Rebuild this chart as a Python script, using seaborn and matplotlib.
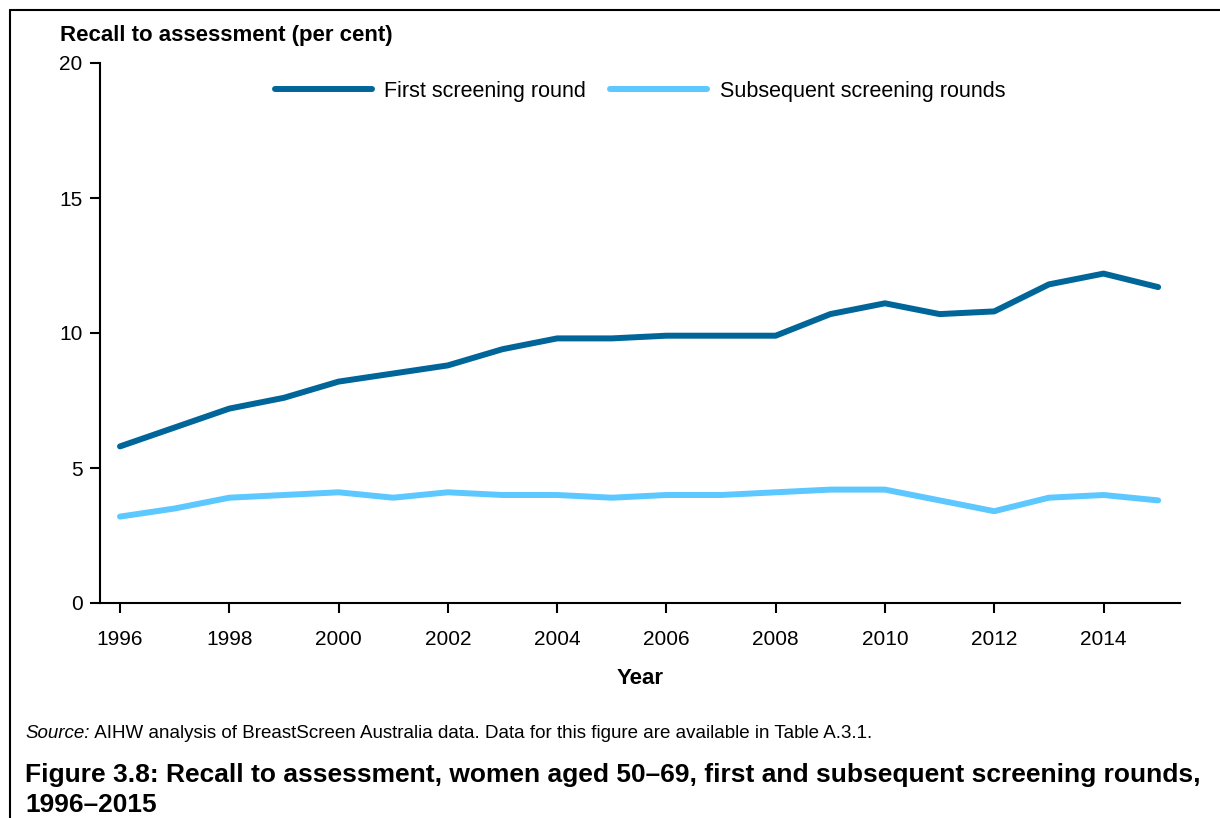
import pandas as pd
import numpy as np
import seaborn as sns
import matplotlib.pyplot as plt
from matplotlib.lines import Line2D

sns.set_style('ticks')
plt.rcParams['font.family'] = ['Liberation Sans', 'DejaVu Sans']
plt.rcParams['text.color'] = 'black'

years = list(range(1996, 2016))
first_round = [5.8, 6.5, 7.2, 7.6, 8.2, 8.5, 8.8, 9.4, 9.8, 9.8,
               9.9, 9.9, 9.9, 10.7, 11.1, 10.7, 10.8, 11.8, 12.2, 11.7]
subsequent_rounds = [3.2, 3.5, 3.9, 4.0, 4.1, 3.9, 4.1, 4.0, 4.0, 3.9,
                     4.0, 4.0, 4.1, 4.2, 4.2, 3.8, 3.4, 3.9, 4.0, 3.8]
series_names = ['First screening round', 'Subsequent screening rounds']

df = pd.DataFrame({
    'Year': years * 2,
    'Rate': first_round + subsequent_rounds,
    'Series': [series_names[0]] * len(years) + [series_names[1]] * len(years),
})

palette = {series_names[0]: '#006699', series_names[1]: '#5CC8FF'}

fig = plt.figure(figsize=(12.2, 8.18), dpi=100)
ax = fig.add_axes([100/1220, 1 - 603/818, 1080/1220, 540/818])

sns.lineplot(data=df, x='Year', y='Rate', hue='Series', palette=palette,
             linewidth=4.3, ax=ax, legend=False)

ax.set_xlim(1995.634, 2015.4)
ax.set_ylim(0, 20)
ax.set_xticks(range(1996, 2016, 2))
ax.set_yticks([0, 5, 10, 15, 20])
ax.tick_params(axis='both', labelsize=15, length=7.5, width=1.5, color='black',
               labelcolor='black')
ax.tick_params(axis='x', pad=12)
ax.tick_params(axis='y', pad=5)
for s in ['left', 'bottom']:
    ax.spines[s].set_linewidth(1.5)
    ax.spines[s].set_color('black')
sns.despine(ax=ax)
ax.set_xlabel('')
ax.set_ylabel('')

# legend across the top
handles = [Line2D([0], [0], color=palette[n], linewidth=4.3) for n in series_names]
ax.legend(handles, series_names, loc='center', bbox_to_anchor=(0.5, 1 - 28/540),
          ncol=2, frameon=False, fontsize=15.5, handlelength=4.5,
          handletextpad=0.6, columnspacing=1.1, labelcolor='black')

fig.text(60/1220, 1 - 35/818, 'Recall to assessment (per cent)', fontsize=16,
         fontweight='bold', va='center', ha='left')
fig.text(640/1220, 1 - 679/818, 'Year', fontsize=16, fontweight='bold',
         va='center', ha='center')

src = fig.text(25/1220, 1 - 733/818, 'Source:', fontsize=13.5, style='italic',
               va='center', ha='left')
ax.annotate(' AIHW analysis of BreastScreen Australia data. Data for this figure are available in Table A.3.1.',
            xy=(1, 0.5), xycoords=src, fontsize=13.5, va='center', ha='left',
            annotation_clip=False)
fig.text(25/1220, 1 - 775/818,
         'Figure 3.8: Recall to assessment, women aged 50\u201369, first and subsequent screening rounds,',
         fontsize=19, fontweight='bold', va='center', ha='left')
fig.text(25/1220, 1 - 805/818, '1996\u20132015', fontsize=19, fontweight='bold',
         va='center', ha='left')

# frame around the figure (top and left edges visible)
fig.add_artist(Line2D([10/1220, 10/1220], [0, 1 - 10/818], color='black',
                      linewidth=1.5, transform=fig.transFigure))
fig.add_artist(Line2D([10/1220, 1], [1 - 10/818, 1 - 10/818], color='black',
                      linewidth=1.5, transform=fig.transFigure))

fig.savefig('out.png', dpi=100)
